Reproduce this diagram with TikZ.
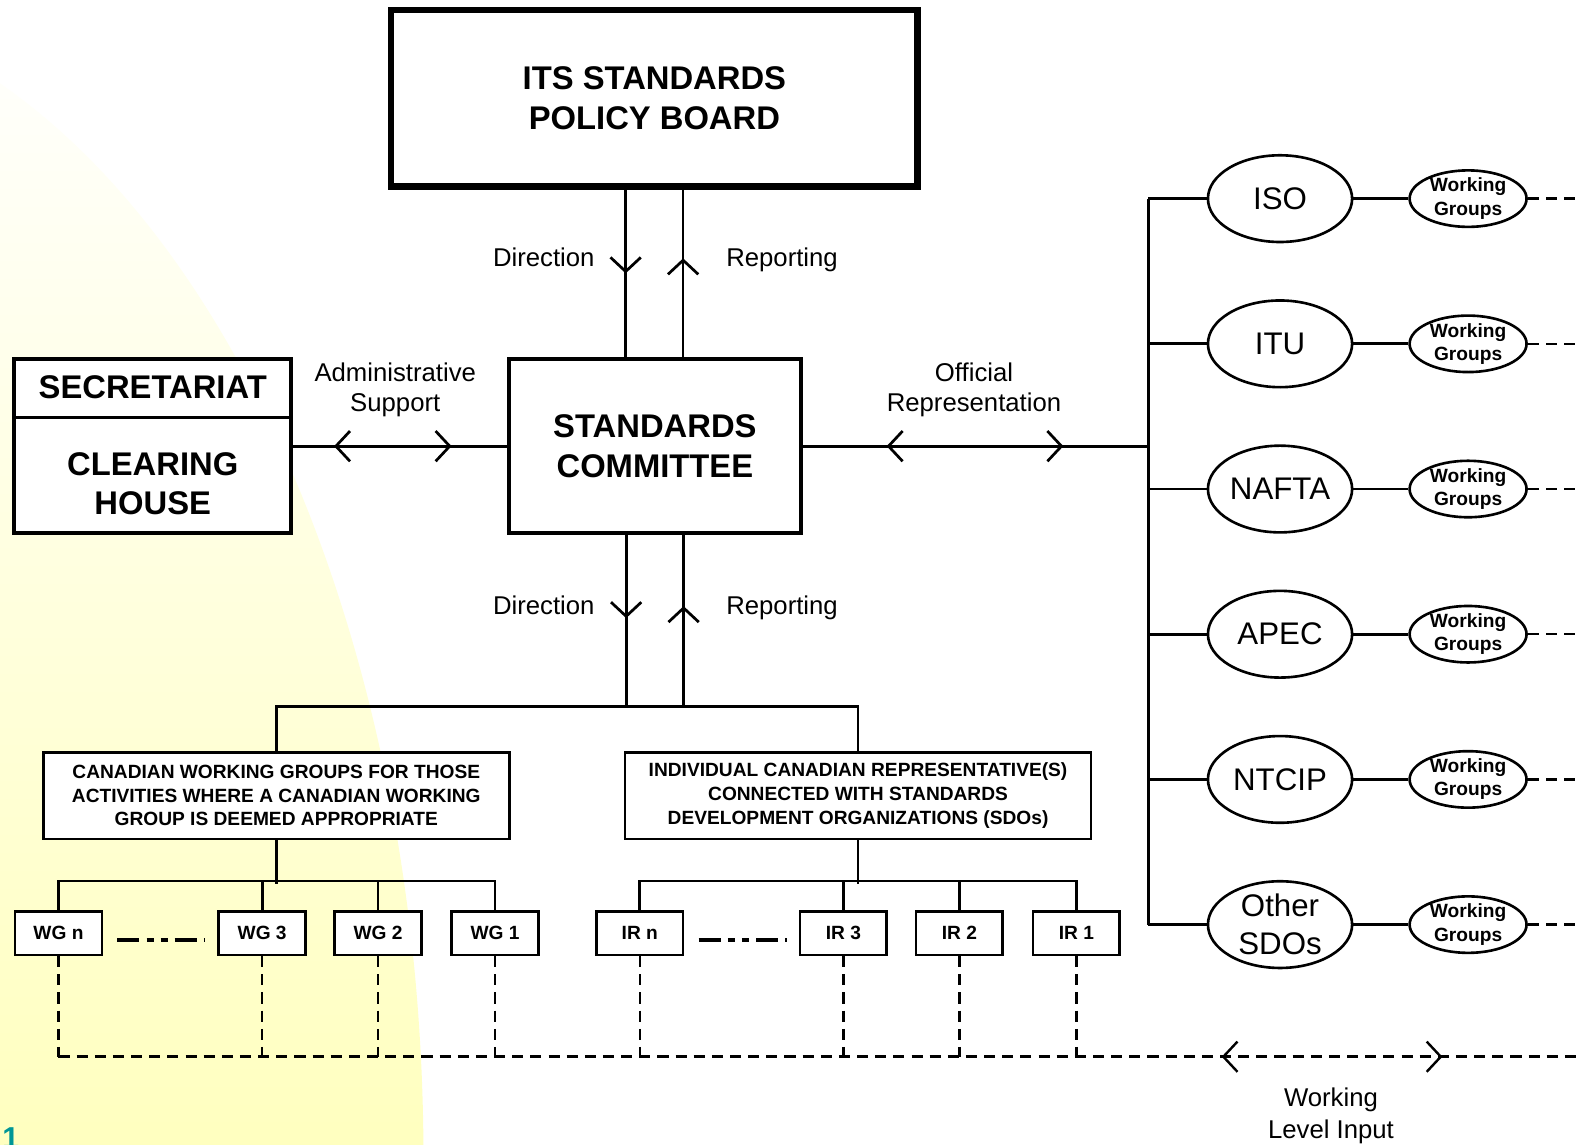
\documentclass[tikz,border=0pt]{standalone}
\usepackage{fontspec}
\setmainfont{Liberation Sans}
\usetikzlibrary{arrows.meta,decorations.markings,shapes.geometric}

\definecolor{slidenum}{RGB}{0,150,150}

\tikzset{
  vtip/.tip={Straight Barb[length=14pt,width=30pt]},
  midtip/.style={postaction={decorate,decoration={markings,mark=at position #1 with {\arrow{vtip}}}}},
  twoway/.style 2 args={postaction={decorate,decoration={markings,
      mark=at position #1 with {\arrowreversed{vtip}},
      mark=at position #2 with {\arrow{vtip}}}}},
  bigbox/.style={draw, line width=4pt, fill=white, inner sep=0pt, align=center,
      font=\fontsize{32.5}{39}\selectfont\bfseries},
  boxtext/.style={inner sep=0pt, align=center, font=\fontsize{32.5}{39}\selectfont\bfseries},
  grpbox/.style={draw, line width=2.6pt, fill=white, inner sep=0pt, align=center,
      minimum width=462pt, minimum height=86pt, font=\fontsize{19}{23.5}\selectfont\bfseries},
  smallbox/.style={draw, line width=2.6pt, fill=white, inner sep=0pt, align=center,
      minimum width=86pt, minimum height=43pt, font=\fontsize{19}{23}\selectfont\bfseries},
  org/.style={ellipse, draw, line width=2.6pt, fill=white, inner xsep=-2pt, inner ysep=-16pt,
      minimum width=143pt, minimum height=86pt, align=center, font=\fontsize{31}{38}\selectfont},
  wgell/.style={ellipse, draw, line width=2.6pt, fill=white, inner sep=-2pt,
      minimum width=116pt, minimum height=56pt, align=center, font=\fontsize{19}{23}\selectfont\bfseries},
  lbl/.style={inner sep=0pt, align=center, font=\fontsize{25.5}{30}\selectfont},
  dashedline/.style={line width=2.4pt, dash pattern=on 11pt off 7pt},
  ellip/.style={line width=4pt, dash pattern=on 22pt off 7pt on 7pt off 7pt on 7pt off 7pt},
}

\begin{document}
\begin{tikzpicture}[x=1pt, y=-1pt, line width=2.7pt]

% page and background
\useasboundingbox (0,0) rectangle (1568,1135);
\fill[white] (0,0) rectangle (1568,1135);
\begin{scope}
  \clip (-250,1150) ellipse [x radius=670pt, y radius=1150pt];
  \shade[top color=white, middle color=yellow!18, bottom color=yellow!25] (0,0) rectangle (1568,1135);
\end{scope}
\node[anchor=base west, inner sep=0pt, text=slidenum, font=\fontsize{30}{30}\selectfont\bfseries] (pgnum) at (1,1139) {1};

% main boxes
\node[bigbox, line width=6.5pt, minimum width=522pt, minimum height=175pt] (board) at (649,97.5) {ITS STANDARDS\\POLICY BOARD};
\node[bigbox, minimum width=289pt, minimum height=173pt] (cmt) at (649.5,442.5) {STANDARDS\\COMMITTEE};
\node[bigbox, minimum width=275pt, minimum height=173pt] (sec) at (151.5,442.5) {};
\draw[line width=3pt] (sec.west |- 0,414) -- (sec.east |- 0,414);
\node[boxtext] (secr) at (151.5,384) {SECRETARIAT};
\node[boxtext] (clr) at (151.5,480) {CLEARING\\HOUSE};

% board <-> committee
\coordinate (uL) at ([xshift=-28.5pt]board.south);
\coordinate (uR) at ([xshift=28.5pt]board.south);
\draw[midtip=0.5] (uL) -- (uL |- cmt.north);
\draw[midtip=0.59] (uR |- cmt.north) -- (uR);
\node[lbl, anchor=base east] (dirtop) at (591,264) {Direction};
\node[lbl, anchor=base west] (reptop) at (719,264) {Reporting};

% secretariat
\draw[twoway={0.19}{0.74}] (cmt.west -| sec.east) -- (cmt.west);
\node[lbl] (admin) at (392,387) {Administrative\\Support};

% SDO side
\coordinate (bus) at (1139,0);
\draw[twoway={0.243}{0.754}] (cmt.east) -- (cmt.east -| bus);
\node[lbl] (offrep) at (966,387) {Official\\Representation};
\foreach \nm/\txt [count=\i from 0] in {iso/ISO, itu/ITU, nafta/NAFTA, apec/APEC, ntcip/NTCIP, sdo/{Other\\SDOs}} {
  \node[org] (\nm) at (1269.5,{197+144*\i}) {\txt};
  \node[wgell] (wg\nm) at (1456,{197+144*\i}) {Working\\Groups};
  \draw (\nm.west -| bus) -- (\nm.west);
  \draw (\nm) -- (wg\nm);
  \draw[dashedline] (wg\nm.east) -- ++(54,0);
}
\draw (iso.west -| bus) -- (sdo.west -| bus);

% committee -> groups
\coordinate (jn) at (649.5,702);
\coordinate (dL) at ([xshift=-28.5pt]cmt.south);
\coordinate (dR) at ([xshift=28.5pt]cmt.south);
\draw[midtip=0.48] (dL) -- (dL |- jn);
\draw[midtip=0.59] (dR |- jn) -- (dR);
\node[lbl, anchor=base east] (dirlow) at (591,609) {Direction};
\node[lbl, anchor=base west] (replow) at (719,609) {Reporting};

\node[grpbox] (cwg) at (274,789) {CANADIAN WORKING GROUPS FOR THOSE\\ACTIVITIES WHERE A CANADIAN WORKING\\GROUP IS DEEMED APPROPRIATE};
\node[grpbox] (irg) at (851,789) {INDIVIDUAL CANADIAN REPRESENTATIVE(S)\\CONNECTED WITH STANDARDS\\DEVELOPMENT ORGANIZATIONS (SDOs)};
\draw (cwg.north) -- ++(0,-44) -| (irg.north);

% working groups and representatives
\foreach \nm/\txt/\x in {wgn/WG n/58, wg3/WG 3/260, wg2/WG 2/375, wg1/WG 1/491,
                         irn/IR n/634.5, ir3/IR 3/836.5, ir2/IR 2/951.5, ir1/IR 1/1067.5}
  \node[smallbox] (\nm) at (\x,925.5) {\txt};

\draw (cwg.south) -- ++(0,43);
\draw (wgn.north) -- ++(0,-29) -| (wg1.north);
\draw (irg.south) -- ++(0,43);
\draw (irn.north) -- ++(0,-29) -| (ir1.north);
\foreach \nm in {wg3,wg2,ir3,ir2}
  \draw (\nm.north) -- ++(0,-29);

\draw[ellip] ([shift={(14,6.5)}]wgn.east) -- ([shift={(-12,6.5)}]wg3.west);
\draw[ellip] ([shift={(14,6.5)}]irn.east) -- ([shift={(-12,6.5)}]ir3.west);

% working level input
\coordinate (wlend) at (1568,1048);
\foreach \nm in {wgn,wg3,wg2,wg1,irn,ir3,ir2,ir1}
  \draw[dashedline] (\nm.south) -- (\nm.south |- wlend);
\draw[dashedline, twoway={0.764}{0.909}] (wgn.south |- wlend) -- (wlend);
\node[lbl, font=\fontsize{25.5}{32}\selectfont] (wli) at (1320,1107) {Working\\Level Input};

\end{tikzpicture}
\end{document}
